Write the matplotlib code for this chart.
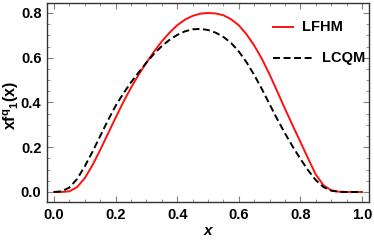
import matplotlib
matplotlib.use("Agg")
import matplotlib.pyplot as plt
from matplotlib.ticker import MultipleLocator

plt.rcParams["font.family"] = ["Liberation Sans", "DejaVu Sans"]
plt.rcParams["font.weight"] = "bold"
plt.rcParams["lines.scale_dashes"] = False
plt.rcParams["mathtext.fontset"] = "custom"
plt.rcParams["mathtext.rm"] = "Liberation Sans:bold"
plt.rcParams["mathtext.bf"] = "Liberation Sans:bold"
plt.rcParams["mathtext.it"] = "Liberation Sans:bold:italic"

# valori, passo 0.025
x = [0.0, 0.025, 0.05, 0.075, 0.1, 0.125, 0.15, 0.175, 0.2, 0.225,
     0.25, 0.275, 0.3, 0.325, 0.35, 0.375, 0.4, 0.425, 0.45, 0.475,
     0.5, 0.525, 0.55, 0.575, 0.6, 0.625, 0.65, 0.675, 0.7, 0.725,
     0.75, 0.775, 0.8, 0.825, 0.85, 0.875, 0.9, 0.925, 0.95, 0.975, 1.0]

lfhm = [0.0, 0.0, 0.003, 0.022, 0.062, 0.12, 0.188, 0.26, 0.332, 0.402,
        0.466, 0.525, 0.578, 0.628, 0.673, 0.712, 0.745, 0.77, 0.787, 0.797,
        0.8, 0.798, 0.79, 0.772, 0.745, 0.705, 0.655, 0.595, 0.525, 0.449,
        0.372, 0.297, 0.224, 0.15, 0.078, 0.03, 0.008, 0.001, 0.0, 0.0, 0.0]

lcqm = [0.0, 0.003, 0.02, 0.058, 0.115, 0.18, 0.25, 0.32, 0.385, 0.44,
        0.49, 0.535, 0.578, 0.618, 0.652, 0.68, 0.702, 0.718, 0.727, 0.729,
        0.724, 0.712, 0.693, 0.666, 0.628, 0.58, 0.523, 0.46, 0.392, 0.325,
        0.262, 0.203, 0.148, 0.097, 0.053, 0.022, 0.006, 0.001, 0.0, 0.0, 0.0]

labels = ["LFHM", "LCQM"]

fig = plt.figure(figsize=(3.74, 2.47), dpi=100)
ax = fig.add_axes([0.1257, 0.1822, 0.8609, 0.8057])

ax.plot(x, lfhm, color="#ff1010", lw=1.4)
ax.plot(x, lcqm, color="black", lw=1.4, linestyle=(0, (5, 2.6)))

ax.set_xlim(-0.0227, 1.0227)
ax.set_ylim(-0.0447, 0.8447)

ax.xaxis.set_major_locator(MultipleLocator(0.2))
ax.xaxis.set_minor_locator(MultipleLocator(0.05))
ax.yaxis.set_major_locator(MultipleLocator(0.2))
ax.yaxis.set_minor_locator(MultipleLocator(0.05))
ax.xaxis.set_major_formatter(lambda v, p: f"{v:.1f}")
ax.yaxis.set_major_formatter(lambda v, p: f"{v:.1f}")

ax.tick_params(which="both", direction="in", top=True, right=True,
               color="#808080", labelsize=10.5)
ax.tick_params(which="major", length=4, width=0.8, pad=4)
ax.tick_params(which="minor", length=2, width=0.6)
for lab in ax.get_xticklabels() + ax.get_yticklabels():
    lab.set_fontweight("bold")
for s in ax.spines.values():
    s.set_color("#333333")
    s.set_linewidth(1.0)

ax.set_xlabel("x", fontsize=11, fontweight="bold", fontstyle="italic", labelpad=2)
fig.text(11.5 / 374, 1 - 105 / 247, r"$\mathbf{xf^{q}{}_{1}(x)}$", rotation=90,
         ha="center", va="center", fontsize=11.5)

# legenda fatta a mano (tratti di lunghezza diversa)
ax.plot([0.702, 0.764], [0.879, 0.879], color="#ff1010", lw=1.4, transform=ax.transAxes)
ax.text(0.792, 0.879, labels[0], transform=ax.transAxes, va="center", ha="left",
        fontsize=10.5, fontweight="bold")
ax.plot([0.702, 0.826], [0.724, 0.724], color="black", lw=1.4,
        linestyle=(0, (5, 2.6)), transform=ax.transAxes)
ax.text(0.854, 0.724, labels[1], transform=ax.transAxes, va="center", ha="left",
        fontsize=10.5, fontweight="bold")

fig.savefig("out.png", dpi=100)
